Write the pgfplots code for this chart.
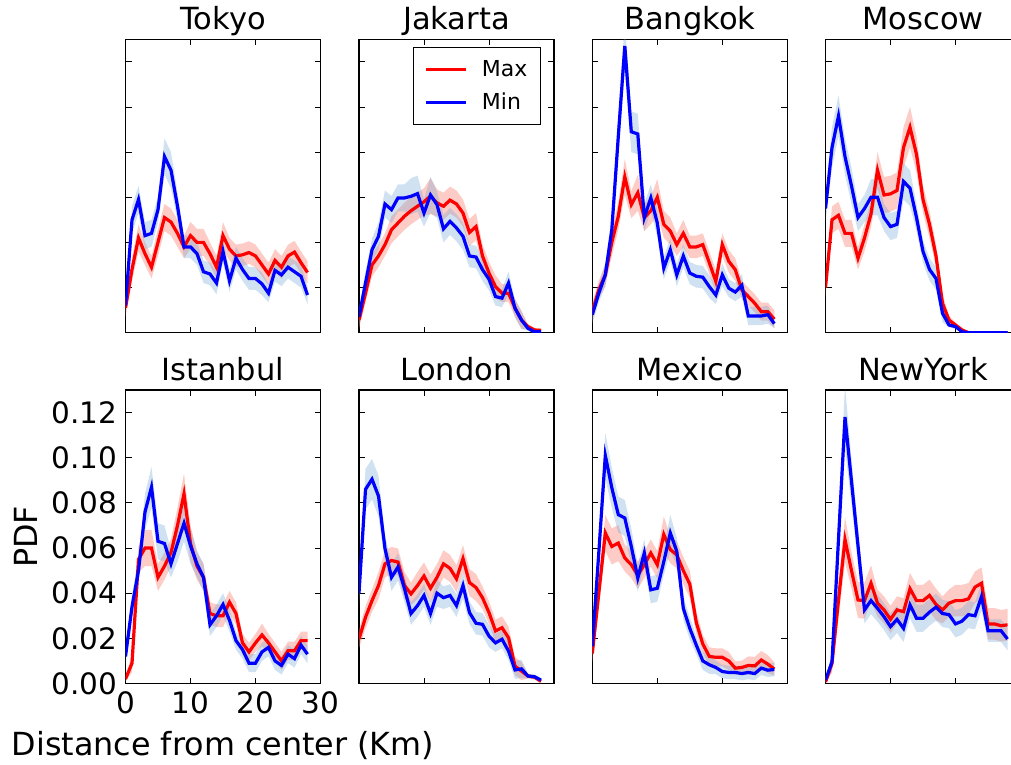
\documentclass[border=0pt]{standalone}
\usepackage{fontspec}
\setmainfont{DejaVu Sans}
\usepackage{pgfplots}
\pgfplotsset{compat=1.18}
\usepackage{pgfplotstable}
\usepgfplotslibrary{fillbetween}
\definecolor{bandred}{RGB}{250,128,114}
\definecolor{bandblue}{RGB}{100,160,210}

\pgfplotstableread{
x max emax min emin
0 0.011 0.004 0.012 0.004
1 0.028 0.005 0.050 0.006
2 0.042 0.006 0.059 0.006
3 0.035 0.005 0.043 0.006
4 0.029 0.005 0.044 0.006
5 0.040 0.006 0.0545 0.006
6 0.051 0.006 0.078 0.008
7 0.049 0.006 0.072 0.008
8 0.044 0.006 0.056 0.006
9 0.038 0.005 0.038 0.005
10 0.043 0.006 0.038 0.005
11 0.040 0.006 0.035 0.005
12 0.040 0.006 0.027 0.005
13 0.035 0.005 0.026 0.005
14 0.029 0.005 0.022 0.005
15 0.043 0.006 0.036 0.005
16 0.037 0.005 0.023 0.005
17 0.034 0.005 0.033 0.005
18 0.0345 0.005 0.028 0.005
19 0.0355 0.005 0.024 0.005
20 0.034 0.005 0.024 0.005
21 0.030 0.005 0.0216 0.005
22 0.026 0.005 0.0175 0.004
23 0.032 0.005 0.0276 0.005
24 0.029 0.005 0.0256 0.005
25 0.034 0.005 0.029 0.005
26 0.0357 0.005 0.027 0.005
27 0.031 0.005 0.025 0.005
28 0.0267 0.005 0.0167 0.004
}\tokyo

\pgfplotstableread{
x max emax min emin
0 0.0056 0.004 0.007 0.004
1 0.0175 0.004 0.022 0.005
2 0.030 0.005 0.0367 0.005
3 0.034 0.005 0.0427 0.006
4 0.039 0.005 0.057 0.006
5 0.0456 0.006 0.0545 0.006
6 0.0486 0.006 0.0597 0.006
7 0.0516 0.006 0.0597 0.006
8 0.054 0.006 0.0604 0.008
9 0.056 0.006 0.0616 0.008
10 0.058 0.006 0.053 0.006
11 0.0605 0.008 0.061 0.008
12 0.0575 0.006 0.0567 0.006
13 0.056 0.006 0.046 0.006
14 0.0587 0.006 0.0493 0.006
15 0.057 0.006 0.0464 0.006
16 0.053 0.006 0.0427 0.006
17 0.0444 0.006 0.034 0.005
18 0.047 0.006 0.0335 0.005
19 0.034 0.005 0.0279 0.005
20 0.0264 0.005 0.0237 0.005
21 0.0204 0.005 0.016 0.004
22 0.0175 0.004 0.0153 0.004
23 0.0175 0.004 0.022 0.005
24 0.011 0.004 0.0108 0.004
25 0.0056 0.004 0.0056 0.004
26 0.0027 0.001 0.0019 0.001
27 0.0012 0.001 0.0004 0.001
28 0.001 0.001 0.0004 0.001
}\jakarta

\pgfplotstableread{
x max emax min emin
0 0.0093 0.004 0.008 0.004
1 0.019 0.004 0.0175 0.004
2 0.0256 0.005 0.0256 0.005
3 0.040 0.006 0.0456 0.006
4 0.0516 0.006 0.087 0.009
5 0.069 0.008 0.127 0.011
6 0.0567 0.006 0.089 0.009
7 0.062 0.008 0.088 0.009
8 0.051 0.006 0.051 0.006
9 0.054 0.006 0.0597 0.006
10 0.060 0.008 0.0486 0.006
11 0.048 0.006 0.0286 0.005
12 0.045 0.006 0.0367 0.005
13 0.039 0.005 0.0256 0.005
14 0.044 0.006 0.034 0.005
15 0.038 0.005 0.0264 0.005
16 0.038 0.005 0.025 0.005
17 0.039 0.005 0.0246 0.005
18 0.031 0.005 0.0204 0.005
19 0.0227 0.005 0.0167 0.004
20 0.039 0.005 0.0256 0.005
21 0.0316 0.005 0.0197 0.004
22 0.0279 0.005 0.018 0.004
23 0.019 0.004 0.021 0.005
24 0.016 0.004 0.0074 0.004
25 0.013 0.004 0.0074 0.004
26 0.0093 0.004 0.0074 0.004
27 0.0093 0.004 0.008 0.004
28 0.006 0.004 0.004 0.002
}\bangkok

\pgfplotstableread{
x max emax min emin
0 0.020 0.004 0.055 0.006
1 0.050 0.006 0.082 0.009
2 0.052 0.006 0.096 0.009
3 0.044 0.006 0.078 0.008
4 0.044 0.006 0.065 0.008
5 0.033 0.005 0.051 0.006
6 0.042 0.006 0.055 0.006
7 0.0526 0.006 0.060 0.008
8 0.072 0.008 0.060 0.008
9 0.061 0.008 0.051 0.006
10 0.0615 0.008 0.047 0.006
11 0.063 0.008 0.048 0.006
12 0.082 0.009 0.067 0.008
13 0.091 0.009 0.064 0.008
14 0.079 0.008 0.051 0.006
15 0.059 0.006 0.036 0.005
16 0.048 0.006 0.028 0.005
17 0.034 0.005 0.024 0.005
18 0.013 0.004 0.0086 0.004
19 0.0056 0.002 0.0034 0.001
20 0.0034 0.001 0.0027 0.001
21 0.0012 0.001 0.0004 0.0005
22 0 0 0 0
23 0 0 0 0
24 0 0 0 0
25 0 0 0 0
26 0 0 0 0
27 0 0 0 0
28 0 0 0 0
}\moscow

\pgfplotstableread{
x max emax min emin
0 0.002 0.001 0.012 0.004
1 0.009 0.004 0.034 0.005
2 0.055 0.006 0.050 0.006
3 0.060 0.008 0.076 0.008
4 0.060 0.008 0.087 0.009
5 0.047 0.006 0.063 0.008
6 0.052 0.006 0.062 0.008
7 0.058 0.006 0.053 0.006
8 0.070 0.008 0.062 0.008
9 0.084 0.009 0.071 0.008
10 0.062 0.008 0.061 0.008
11 0.052 0.006 0.053 0.006
12 0.047 0.006 0.047 0.006
13 0.031 0.005 0.026 0.005
14 0.030 0.005 0.030 0.005
15 0.030 0.005 0.035 0.005
16 0.036 0.005 0.028 0.005
17 0.031 0.005 0.019 0.004
18 0.018 0.004 0.015 0.004
19 0.014 0.004 0.009 0.004
20 0.018 0.004 0.009 0.004
21 0.0215 0.005 0.014 0.004
22 0.018 0.004 0.016 0.004
23 0.014 0.004 0.010 0.004
24 0.010 0.004 0.008 0.004
25 0.0145 0.004 0.013 0.004
26 0.0145 0.004 0.011 0.004
27 0.019 0.004 0.017 0.004
28 0.019 0.004 0.013 0.004
}\istanbul

\pgfplotstableread{
x max emax min emin
0 0.0197 0.004 0.040 0.006
1 0.0293 0.005 0.086 0.009
2 0.0367 0.005 0.0905 0.009
3 0.0434 0.006 0.083 0.009
4 0.053 0.006 0.0597 0.006
5 0.0545 0.006 0.047 0.006
6 0.0538 0.006 0.0516 0.006
7 0.0434 0.006 0.042 0.006
8 0.0397 0.005 0.031 0.005
9 0.0434 0.006 0.0345 0.005
10 0.0476 0.006 0.039 0.005
11 0.0422 0.006 0.031 0.005
12 0.047 0.006 0.040 0.006
13 0.053 0.006 0.038 0.005
14 0.051 0.006 0.039 0.005
15 0.0464 0.006 0.0345 0.005
16 0.0553 0.006 0.0434 0.006
17 0.0447 0.006 0.0314 0.005
18 0.0425 0.006 0.0267 0.005
19 0.038 0.005 0.0262 0.005
20 0.0314 0.005 0.021 0.005
21 0.0233 0.005 0.018 0.004
22 0.0247 0.005 0.0196 0.004
23 0.0203 0.005 0.0144 0.004
24 0.0077 0.004 0.006 0.004
25 0.0055 0.004 0.0065 0.004
26 0.0033 0.001 0.0033 0.001
27 0.0028 0.001 0.003 0.001
28 0.001 0.001 0.0015 0.001
}\london

\pgfplotstableread{
x max emax min emin
0 0.0133 0.004 0.0165 0.004
1 0.040 0.006 0.058 0.006
2 0.0667 0.008 0.101 0.010
3 0.0607 0.008 0.0867 0.009
4 0.0622 0.008 0.0748 0.008
5 0.0556 0.006 0.0733 0.008
6 0.0526 0.006 0.0607 0.008
7 0.048 0.006 0.0467 0.006
8 0.0526 0.006 0.0578 0.006
9 0.0578 0.006 0.0415 0.006
10 0.0526 0.006 0.0422 0.006
11 0.066 0.008 0.054 0.006
12 0.0593 0.006 0.0667 0.008
13 0.057 0.006 0.0585 0.006
14 0.050 0.006 0.0333 0.005
15 0.044 0.006 0.0244 0.005
16 0.027 0.005 0.017 0.004
17 0.0175 0.004 0.010 0.004
18 0.012 0.004 0.0083 0.004
19 0.0116 0.004 0.0071 0.003
20 0.0116 0.004 0.0053 0.003
21 0.010 0.004 0.0049 0.003
22 0.0068 0.003 0.0049 0.003
23 0.0071 0.003 0.0044 0.003
24 0.008 0.004 0.0049 0.003
25 0.0078 0.004 0.0044 0.003
26 0.0104 0.004 0.0068 0.003
27 0.0086 0.004 0.0059 0.003
28 0.0064 0.003 0.0062 0.003
}\mexico

\pgfplotstableread{
x max emax min emin
0 0.0007 0.001 0.0015 0.001
1 0.0089 0.004 0.0096 0.004
2 0.037 0.008 0.064 0.010
3 0.0637 0.010 0.118 0.014
4 0.050 0.008 0.0895 0.010
5 0.037 0.008 0.061 0.008
6 0.0367 0.008 0.0326 0.006
7 0.0444 0.008 0.0367 0.006
8 0.0356 0.006 0.0333 0.006
9 0.0326 0.006 0.0296 0.006
10 0.0284 0.006 0.0252 0.006
11 0.0326 0.006 0.0284 0.006
12 0.0318 0.006 0.0244 0.006
13 0.042 0.007 0.0348 0.006
14 0.0367 0.007 0.0289 0.006
15 0.0367 0.007 0.0289 0.006
16 0.039 0.007 0.0316 0.006
17 0.035 0.007 0.0338 0.006
18 0.0326 0.006 0.031 0.006
19 0.0356 0.006 0.0305 0.006
20 0.0367 0.007 0.0264 0.006
21 0.0367 0.007 0.0276 0.006
22 0.0375 0.007 0.0305 0.006
23 0.0427 0.007 0.030 0.006
24 0.0444 0.007 0.0385 0.006
25 0.0264 0.007 0.0234 0.005
26 0.0264 0.007 0.0234 0.005
27 0.0256 0.007 0.0234 0.005
28 0.026 0.007 0.0197 0.005
}\newyork

\pgfplotsset{
  panel/.style={
    width=195pt, height=293.5pt, scale only axis, anchor=south west,
    xmin=0, xmax=30, ymin=0, ymax=0.13,
    xtick={0,10,20,30}, ytick={0,0.02,0.04,0.06,0.08,0.1,0.12},
    tick align=inside, major tick length=6pt,
    tick style={black, line width=0.8pt},
    axis line style={line width=1.2pt},
    xticklabels={}, yticklabels={},
    every axis title/.style={at={(0.5,1)}, anchor=base, yshift=10pt, inner sep=0pt,
      font=\fontsize{30.5}{36}\selectfont},
    xticklabel style={anchor=north, inner sep=0pt, yshift=-8pt,
      font=\fontsize{29.5}{35}\selectfont},
    yticklabel style={anchor=east, inner sep=0pt, xshift=-8pt,
      font=\fontsize{29.5}{35}\selectfont},
  },
}

\newcommand{\citypanel}[5]{%
\begin{axis}[panel, at={(#3pt,#4pt)}, title={#2}, #5]
\addplot[draw=none, name path=maxhi, forget plot] table[x=x, y expr=\thisrow{max}+\thisrow{emax}] {#1};
\addplot[draw=none, name path=maxlo, forget plot] table[x=x, y expr=\thisrow{max}-\thisrow{emax}] {#1};
\addplot[bandred, fill opacity=0.4, draw=none, forget plot] fill between[of=maxhi and maxlo];
\addplot[draw=none, name path=minhi, forget plot] table[x=x, y expr=\thisrow{min}+\thisrow{emin}] {#1};
\addplot[draw=none, name path=minlo, forget plot] table[x=x, y expr=\thisrow{min}-\thisrow{emin}] {#1};
\addplot[bandblue, fill opacity=0.3, draw=none, forget plot] fill between[of=minhi and minlo];
\addplot[red, line width=3.2pt] table[x=x, y=max] {#1};
\addplot[blue, line width=3.2pt] table[x=x, y=min] {#1};
\end{axis}}

\begin{document}
\begin{tikzpicture}
\citypanel{\tokyo}{Tokyo}{125.5}{431.3}{}
\citypanel{\jakarta}{Jakarta}{359}{431.3}{
  legend style={at={(0.933,0.973)}, anchor=north east, draw=black, line width=1pt,
    font=\fontsize{22}{26}\selectfont, inner xsep=11pt, inner ysep=11pt, row sep=11pt,
    column sep=12pt},
  legend cell align=left,
  legend image code/.code={\draw[#1] (0pt,0pt) -- (40pt,0pt);},
  legend entries={Max,Min}}
\citypanel{\bangkok}{Bangkok}{592.3}{431.3}{}
\citypanel{\moscow}{Moscow}{825.5}{431.3}{}
\citypanel{\istanbul}{Istanbul}{125.5}{80.5}{
  xticklabels={0,10,20,30},
  yticklabels={0.00,0.02,0.04,0.06,0.08,0.10,0.12},
  xlabel={Distance from center (Km)},
  xlabel style={at={(axis description cs:0.5,-0.247)}, anchor=base, inner sep=0pt,
    font=\fontsize{31.8}{38}\selectfont},
  ylabel={PDF},
  ylabel style={at={(axis description cs:-0.45,0.5)}, anchor=base, inner sep=0pt,
    font=\fontsize{31.8}{38}\selectfont}}
\citypanel{\london}{London}{359}{80.5}{}
\citypanel{\mexico}{Mexico}{592.3}{80.5}{}
\citypanel{\newyork}{NewYork}{825.5}{80.5}{}
\pgfresetboundingbox
\useasboundingbox (0pt,0pt) rectangle (1011pt,764pt);
\end{tikzpicture}
\end{document}
